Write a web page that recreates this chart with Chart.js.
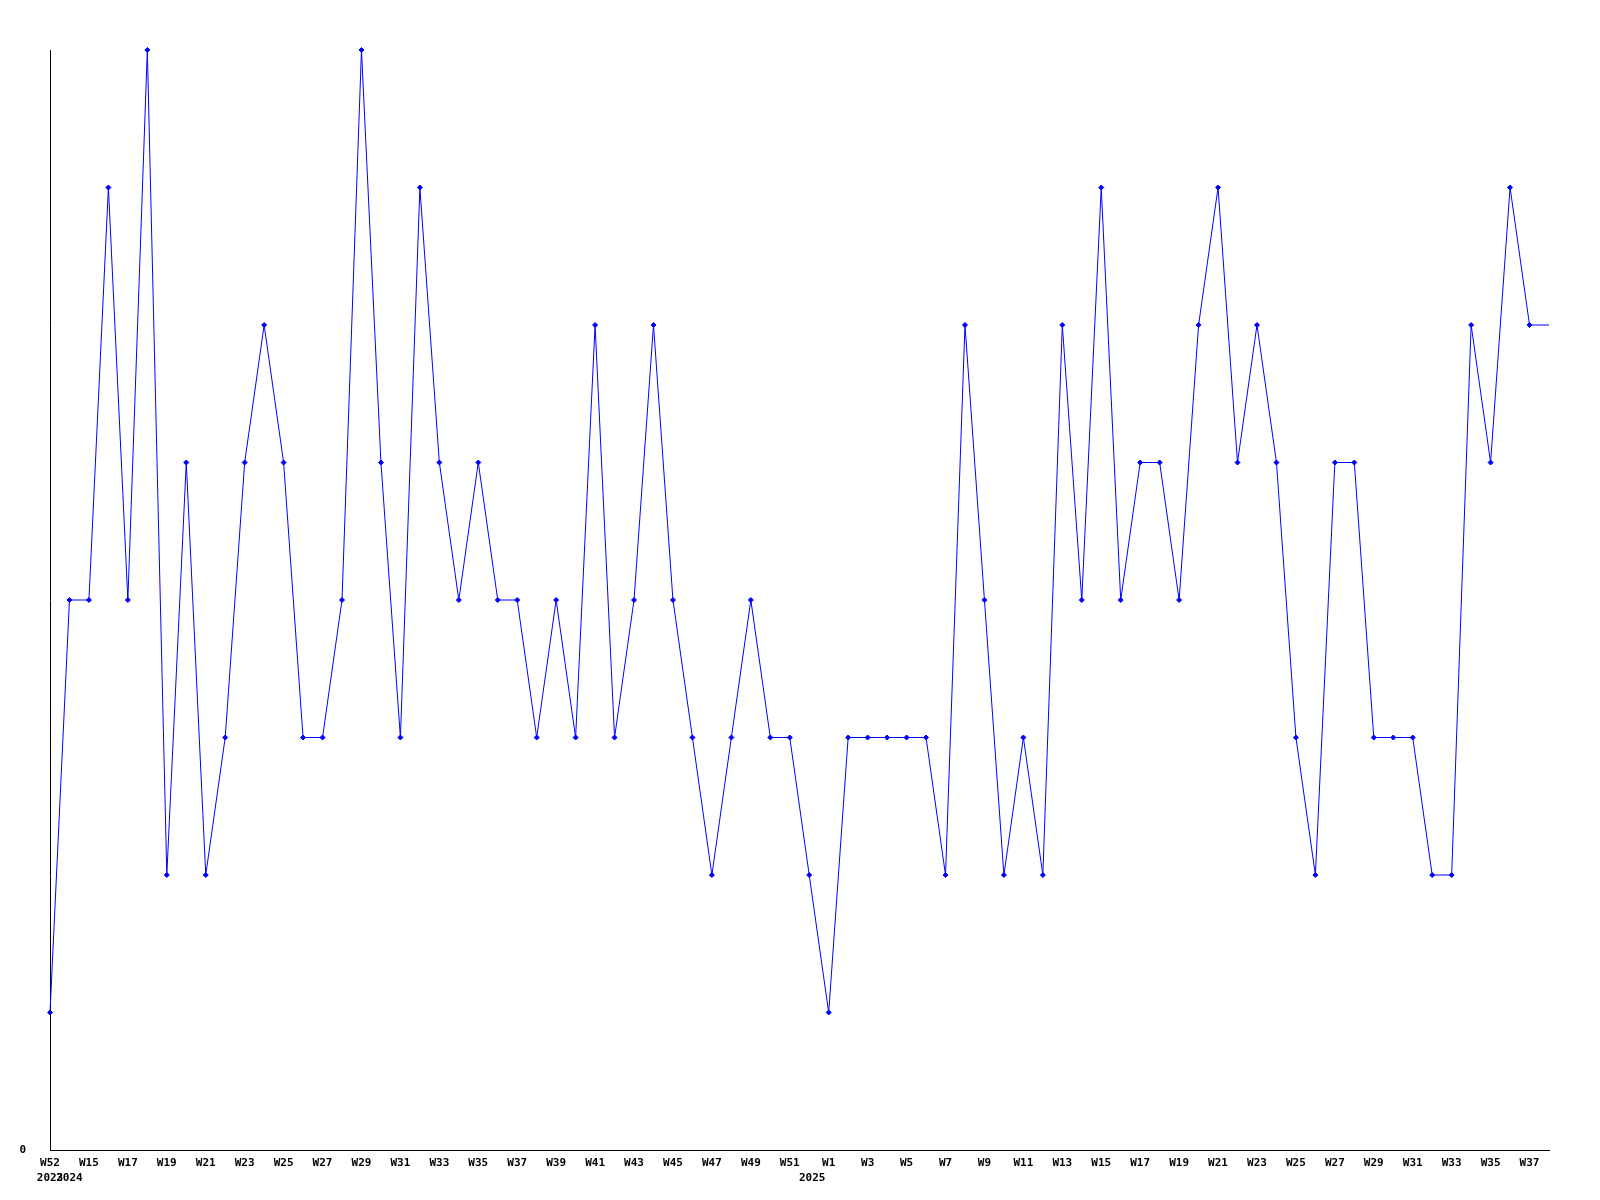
<!DOCTYPE html>
<html>
<head>
<meta charset="utf-8">
<script src="https://cdn.jsdelivr.net/npm/chart.js@4/dist/chart.umd.min.js"></script>
<style>
  html, body { margin: 0; padding: 0; background: #fff; }
  #wrap { width: 1600px; height: 1200px; }
</style>
</head>
<body>
<div id="wrap"><canvas id="weekChart" width="1600" height="1200"></canvas></div>
<script>
// weeks shown on the x axis, one per point
const weeks = [
    'W52',
    'W14', 'W15', 'W16', 'W17', 'W18', 'W19', 'W20', 'W21', 'W22', 'W23', 'W24', 'W25', 'W26',
    'W27', 'W28', 'W29', 'W30', 'W31', 'W32', 'W33', 'W34', 'W35', 'W36', 'W37', 'W38', 'W39',
    'W40', 'W41', 'W42', 'W43', 'W44', 'W45', 'W46', 'W47', 'W48', 'W49', 'W50', 'W51', 'W52',
    'W1', 'W2', 'W3', 'W4', 'W5', 'W6', 'W7', 'W8', 'W9', 'W10', 'W11', 'W12', 'W13',
    'W14', 'W15', 'W16', 'W17', 'W18', 'W19', 'W20', 'W21', 'W22', 'W23', 'W24', 'W25', 'W26',
    'W27', 'W28', 'W29', 'W30', 'W31', 'W32', 'W33', 'W34', 'W35', 'W36', 'W37', 'W38'
];

// year label printed under the first week of each year
// (trailing spaces nudge the 2025 label left like in the original)
const years = ['2023', '2024', '2025     '];
const yearStarts = [0, 1, 40];

const counts = [
    1, 4, 4, 7, 4, 8, 2, 5, 2, 3, 5, 6, 5, 3, 3, 4, 8, 5, 3, 7,
    5, 4, 5, 4, 4, 3, 4, 3, 6, 3, 4, 6, 4, 3, 2, 3, 4, 3, 3, 2,
    1, 3, 3, 3, 3, 3, 2, 6, 4, 2, 3, 2, 6, 4, 7, 4, 5, 5, 4, 6,
    7, 5, 6, 5, 3, 2, 5, 5, 3, 3, 3, 2, 2, 6, 5, 7, 6, 6
];

const tickFont = { family: 'DejaVu Sans Mono', size: 11, weight: 'bold', lineHeight: 1.36 };

// last week is still running, no marker for it
const radii = counts.map((v, i) => i === counts.length - 1 ? 0 : 2.5);

const ctx = document.getElementById('weekChart').getContext('2d');

new Chart(ctx, {
    type: 'line',
    data: {
        labels: weeks,
        datasets: [{
            data: counts,
            borderColor: '#0000ff',
            backgroundColor: '#0000ff',
            borderWidth: 1,
            pointStyle: 'rectRot',
            pointRadius: radii,
            pointHoverRadius: radii,
            pointBorderWidth: 1,
            tension: 0,
            fill: false
        }]
    },
    options: {
        responsive: false,
        animation: false,
        clip: false,
        layout: { padding: { top: 50, right: 51, left: 0, bottom: 0 } },
        plugins: {
            legend: { display: false },
            tooltip: { enabled: false }
        },
        scales: {
            x: {
                grid: { display: false, drawTicks: false },
                border: { display: true, color: '#000', width: 1 },
                afterFit: scale => { scale.height = 50; },
                ticks: {
                    autoSkip: false,
                    maxRotation: 0,
                    minRotation: 0,
                    padding: 6,
                    color: '#000',
                    font: tickFont,
                    callback: (value, index) => {
                        const w = index % 2 === 0 ? weeks[index] : '';
                        const y = yearStarts.indexOf(index);
                        return y >= 0 ? [w, years[y]] : w;
                    }
                }
            },
            y: {
                min: 0,
                max: 8,
                grid: { display: false, drawTicks: false },
                border: { display: true, color: '#000', width: 1 },
                afterFit: scale => { scale.width = 50; },
                ticks: {
                    stepSize: 1,
                    padding: 24,
                    color: '#000',
                    font: tickFont,
                    callback: v => v === 0 ? '0' : ''
                }
            }
        }
    }
});
</script>
</body>
</html>
